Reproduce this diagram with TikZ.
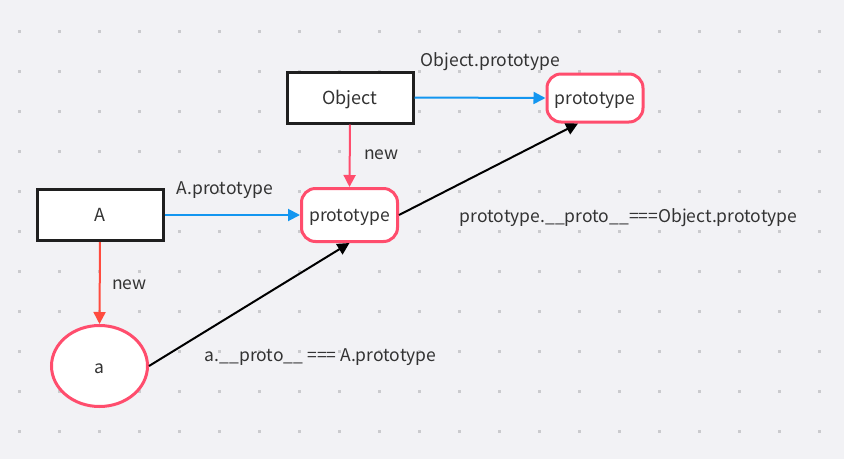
\documentclass[tikz,border=0pt]{standalone}
\usepackage{fontspec}
\setmainfont{Noto Sans CJK SC}
\usepackage{xcolor}
\usetikzlibrary{arrows.meta, shapes.geometric}

\definecolor{bgcol}{HTML}{F2F2F5}
\definecolor{dotcol}{HTML}{CBCBCE}
\definecolor{boxdark}{HTML}{1F1F1F}
\definecolor{pinkred}{HTML}{FF4D6D}
\definecolor{newred}{HTML}{FF4B3E}
\definecolor{linkblue}{HTML}{1396F0}
\definecolor{txt}{HTML}{333333}

\begin{document}
\begin{tikzpicture}[
  x=1pt, y=-1pt,
  cls/.style={rectangle, draw=boxdark, line width=3pt, fill=white, minimum width=126pt, minimum height=51pt, inner sep=0pt, text depth=0pt, font=\fontsize{18}{21}\selectfont, text=txt},
  proto/.style={rectangle, draw=pinkred, line width=3pt, fill=white, rounded corners=14pt, minimum width=96pt, inner sep=0pt, text depth=0pt, font=\fontsize{17.5}{20}\selectfont, text=txt},
  inst/.style={ellipse, draw=pinkred, line width=3pt, fill=white, minimum width=96pt, minimum height=81pt, inner sep=0pt, text height=15pt, text depth=0pt, font=\fontsize{17.5}{20}\selectfont, text=txt},
  arr/.style={-{Triangle[length=12pt, width=12pt]}, line width=2pt},
  lbl/.style={font=\fontsize{17.5}{20}\selectfont, text=txt, inner sep=0pt}
]

% Canvas and dot grid
\fill[bgcol] (0,0) rectangle (844,459);
\foreach \dx in {19,59,...,819}
  \foreach \dy in {31,71,...,431}
    \fill[dotcol] (\dx-1.5,\dy-1.5) rectangle ++(3,3);

% Constructors
\node[cls] (object) at (350,97.5) {Object};
\node[cls] (ctorA) at (100,215) {A};

% Prototype objects
\node[proto, minimum height=53pt] (protoA) at (349.5,215) {prototype};
\node[proto, minimum height=48pt] (protoObj) at (595,98) {prototype};

% Instance
\node[inst] (inst) at (99.5,366) {a};

% Labels
\node[lbl] (lblObjProto) at (490.5,62) {Object.prototype};
\node[lbl] (lblAProto) at (224.7,190) {A.prototype};
\node[lbl] (lblNewObj) at (381.5,155) {new};
\node[lbl] (lblNewA) at (129.5,285) {new};
\node[lbl] (lblChain) at (628.7,218) {prototype.\_\_proto\_\_===Object.prototype};
\node[lbl] (lblInst) at (320.7,357) {a.\_\_proto\_\_ === A.prototype};

% prototype links
\draw[arr, linkblue] (object.east) -- (protoObj.west);
\draw[arr, linkblue] (ctorA.east) -- (protoA.west);

% new
\draw[arr, pinkred] (object.south) -- (protoA.north);
\draw[arr, newred] (ctorA.south) -- (inst.north);

% __proto__ chain
\draw[arr, black] (inst.east) -- (protoA.south);
\draw[arr, black] (protoA.east) -- ([xshift=-17pt]protoObj.south);

\end{tikzpicture}
\end{document}
